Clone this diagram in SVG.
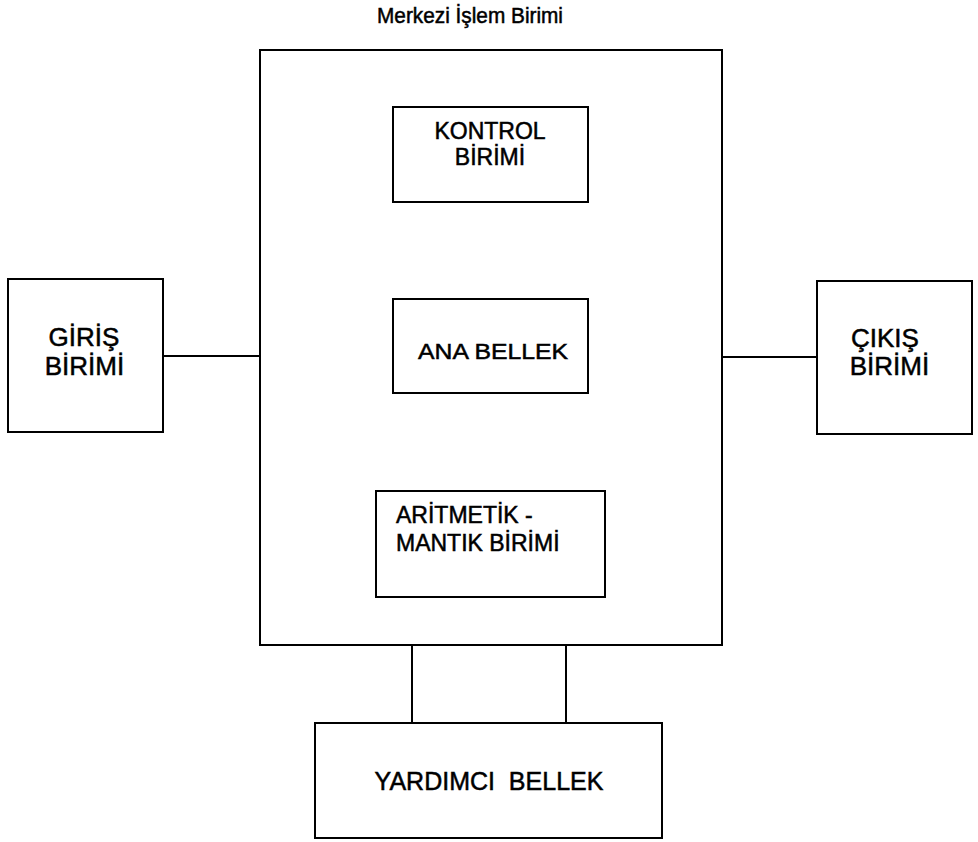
<svg xmlns="http://www.w3.org/2000/svg" width="978" height="842" viewBox="0 0 978 842">
<style>
.box{fill:#fff;stroke:#000;stroke-width:2}
.ln{stroke:#000;stroke-width:2;fill:none}
text{font-family:"Liberation Sans",Arial,sans-serif;fill:#000;stroke:#000;stroke-width:0.5}
.c{text-anchor:middle}
</style>
<rect width="978" height="842" fill="#fff"/>
<text id="title" x="377" y="23" font-size="22" textLength="186" lengthAdjust="spacingAndGlyphs">Merkezi İşlem Birimi</text>
<g id="connectors">
<line class="ln" x1="163" y1="356" x2="260" y2="356"/>
<line class="ln" x1="722" y1="357" x2="817" y2="357"/>
<line class="ln" x1="413" y1="202" x2="413" y2="299"/>
<line class="ln" x1="568" y1="202" x2="568" y2="299"/>
<line class="ln" x1="413" y1="393" x2="413" y2="491"/>
<line class="ln" x1="566" y1="393" x2="566" y2="491"/>
<line class="ln" x1="412" y1="645" x2="412" y2="723"/>
<line class="ln" x1="566" y1="645" x2="566" y2="723"/>
</g>
<g id="cpu"><rect class="box" x="260" y="50" width="462" height="595" fill="none"/></g>
<g id="kontrol"><rect class="box" x="393" y="107" width="195" height="95"/>
<text x="490" y="139" class="c" font-size="23">KONTROL</text>
<text x="490" y="165" class="c" font-size="23">BİRİMİ</text></g>
<g id="anabellek"><rect class="box" x="393" y="299" width="195" height="94"/>
<text x="418" y="359" font-size="22" textLength="150" lengthAdjust="spacingAndGlyphs">ANA BELLEK</text></g>
<g id="alu"><rect class="box" x="376" y="491" width="229" height="106"/>
<text x="396" y="523" font-size="23">ARİTMETİK -</text>
<text x="396" y="551" font-size="23">MANTIK BİRİMİ</text></g>
<g id="giris"><rect class="box" x="8" y="279" width="155" height="153"/>
<text x="84" y="346" class="c" font-size="26">GİRİŞ</text>
<text x="84.5" y="375" class="c" font-size="26">BİRİMİ</text></g>
<g id="cikis"><rect class="box" x="817" y="281" width="155" height="153"/>
<text x="885" y="347" class="c" font-size="26">ÇIKIŞ</text>
<text x="889.5" y="375" class="c" font-size="26">BİRİMİ</text></g>
<g id="yardimci"><rect class="box" x="315" y="723" width="347" height="115"/>
<text x="489" y="790" class="c" font-size="25" xml:space="preserve">YARDIMCI  BELLEK</text></g>
</svg>
